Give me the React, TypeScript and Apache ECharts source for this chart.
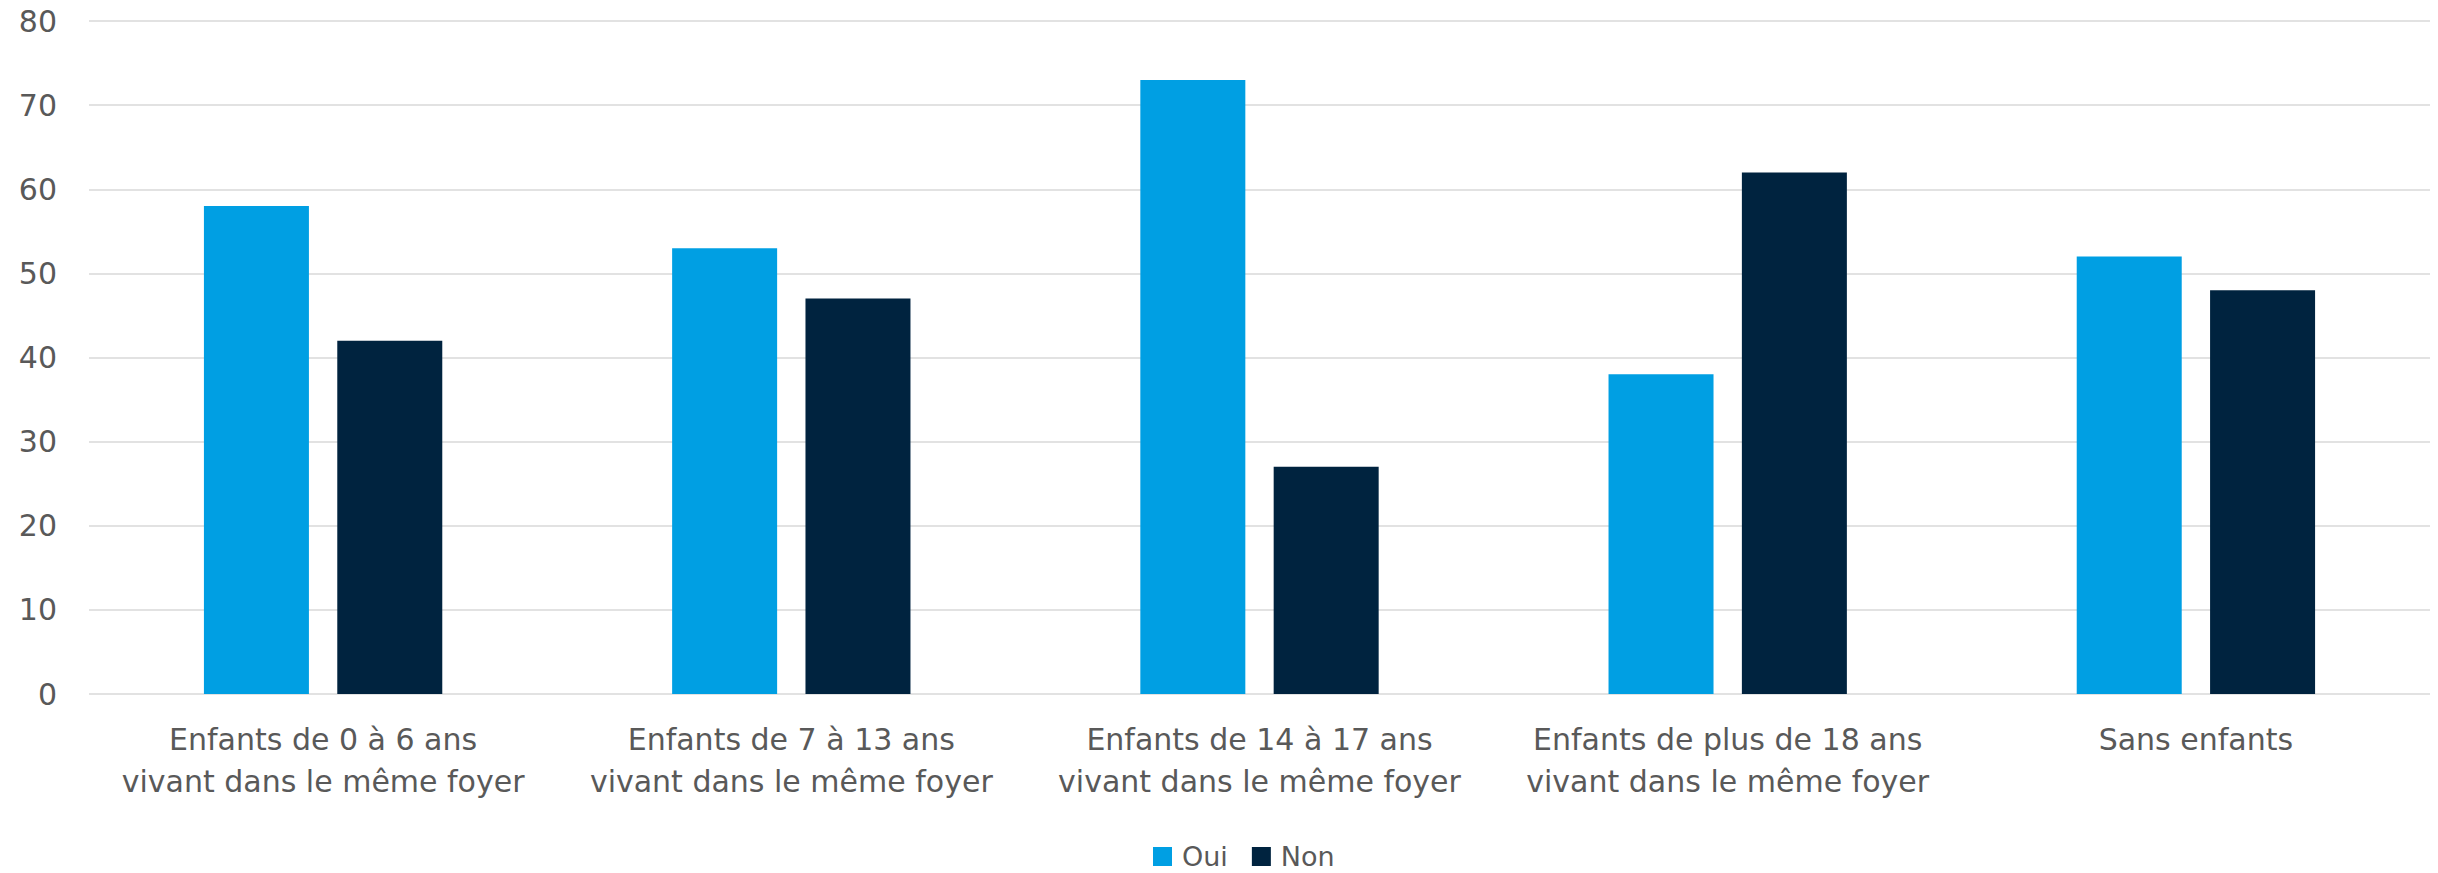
import React, { useEffect, useRef } from "react";
import * as echarts from "echarts";

const categories = [
  "Enfants de 0 à 6 ans\nvivant dans le même foyer",
  "Enfants de 7 à 13 ans\nvivant dans le même foyer",
  "Enfants de 14 à 17 ans\nvivant dans le même foyer",
  "Enfants de plus de 18 ans\nvivant dans le même foyer",
  "Sans enfants",
];
const ouiValues = [58, 53, 73, 38, 52];
const nonValues = [42, 47, 27, 62, 48];

const FONT = "'DejaVu Sans', sans-serif";
const TEXT = "#595959";

export default function App() {
  const ref = useRef<HTMLDivElement>(null);
  useEffect(() => {
    if (!ref.current) return;
    const chart = echarts.init(ref.current, null, { renderer: "svg" });
    chart.setOption({
      animation: false,
      grid: { left: 89, right: 8, top: 21, bottom: 179, containLabel: false },
      legend: {
        data: ["Oui", "Non"],
        top: 843,
        left: 1153,
        itemWidth: 19,
        itemHeight: 19,
        itemGap: 24,
        icon: "rect",
        padding: 0,
        textStyle: {
          fontFamily: FONT,
          fontSize: 27,
          lineHeight: 27,
          color: TEXT,
          padding: [0, 0, 0, 5],
        },
      },
      xAxis: {
        type: "category",
        data: categories,
        axisLine: { show: false },
        axisTick: { show: false },
        axisLabel: {
          interval: 0,
          margin: 24,
          fontFamily: FONT,
          fontSize: 30,
          lineHeight: 42,
          color: TEXT,
          align: "center",
        },
      },
      yAxis: {
        type: "value",
        min: 0,
        max: 80,
        interval: 10,
        axisLine: { show: false },
        axisTick: { show: false },
        splitLine: { lineStyle: { color: "#d9d9d9", width: 1.5 } },
        axisLabel: { margin: 32, fontFamily: FONT, fontSize: 30, color: TEXT },
      },
      series: [
        {
          name: "Oui",
          type: "bar",
          data: ouiValues,
          barWidth: 105,
          barGap: "27%",
          itemStyle: { color: "#009fe3" },
        },
        {
          name: "Non",
          type: "bar",
          data: nonValues,
          barWidth: 105,
          itemStyle: { color: "#00233f" },
        },
      ],
    });
    return () => chart.dispose();
  }, []);
  return (
    <div
      ref={ref}
      style={{ width: 2438, height: 873, position: "absolute", left: 0, top: 0 }}
    />
  );
}
